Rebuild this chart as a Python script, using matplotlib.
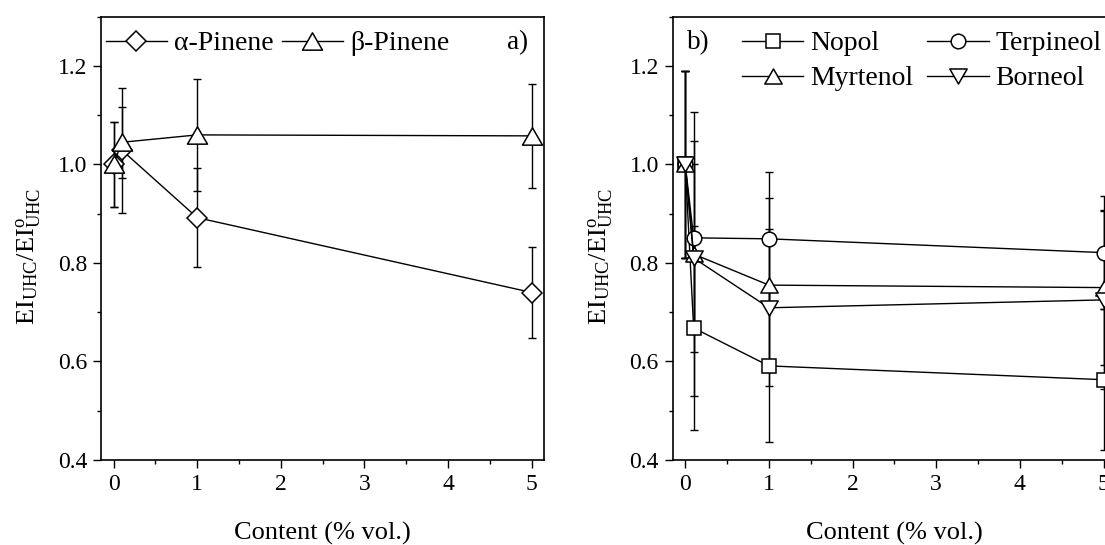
import matplotlib
matplotlib.use("Agg")
import matplotlib.pyplot as plt
from matplotlib.path import Path
from matplotlib.ticker import MultipleLocator

plt.rcParams["font.family"] = ["Liberation Serif", "DejaVu Serif"]
plt.rcParams["mathtext.fontset"] = "custom"
plt.rcParams["mathtext.rm"] = "Liberation Serif"
plt.rcParams["mathtext.it"] = "Liberation Serif:italic"

# Additive content (% vol.)
content = [0, 0.1, 1, 5]

# Panel a) pinenes: normalised EI_UHC and error
alpha_pinene = [1.000, 1.029, 0.892, 0.740]
alpha_pinene_err = [0.087, 0.127, 0.100, 0.092]
beta_pinene = [1.000, 1.045, 1.060, 1.058]
beta_pinene_err = [0.087, 0.072, 0.113, 0.105]

# Panel b) terpene alcohols
nopol = [1.000, 0.668, 0.591, 0.563]
nopol_err = [0.190, 0.207, 0.155, 0.143]
terpineol = [1.000, 0.851, 0.849, 0.821]
terpineol_err = [0.190, 0.196, 0.135, 0.114]
myrtenol = [1.000, 0.818, 0.755, 0.750]
myrtenol_err = [0.190, 0.288, 0.177, 0.157]
borneol = [1.000, 0.810, 0.709, 0.725]
borneol_err = [0.190, 0.190, 0.159, 0.180]

x_ticks = [0, 1, 2, 3, 4, 5]
y_ticks = [0.4, 0.6, 0.8, 1.0, 1.2]
ylabel = r"$\mathrm{EI_{UHC}/EI^{o}_{UHC}}$"
xlabel = "Content (% vol.)"

# Equilateral triangles (Origin style)
tri_up = Path([(-0.5774, -0.5), (0.5774, -0.5), (0.0, 0.5), (-0.5774, -0.5)],
              [Path.MOVETO, Path.LINETO, Path.LINETO, Path.CLOSEPOLY])
tri_down = Path([(-0.5774, 0.5), (0.5774, 0.5), (0.0, -0.5), (-0.5774, 0.5)],
                [Path.MOVETO, Path.LINETO, Path.LINETO, Path.CLOSEPOLY])

TICK_FS = 17
LABEL_FS = 19
LEGEND_FS = 20

fig = plt.figure(figsize=(11.05, 5.45), dpi=100)
ax_a = fig.add_axes([0.0914, 0.156, 0.4012, 0.8134])
ax_b = fig.add_axes([0.6088, 0.156, 0.4012, 0.8134])


def style_axes(ax):
    ax.set_xlim(-0.15, 5.15)
    ax.set_ylim(0.4, 1.3)
    ax.set_xticks(x_ticks)
    ax.set_yticks(y_ticks)
    ax.xaxis.set_minor_locator(MultipleLocator(0.5))
    ax.yaxis.set_minor_locator(MultipleLocator(0.1))
    ax.tick_params(which="both", direction="out", top=False, right=False,
                   width=1.0, labelsize=TICK_FS)
    ax.tick_params(which="major", length=6, pad=4)
    ax.tick_params(which="minor", length=3)
    for sp in ax.spines.values():
        sp.set_linewidth(1.2)
    ax.set_xlabel(xlabel, fontsize=LABEL_FS)
    ax.set_ylabel(ylabel, fontsize=LABEL_FS)
    ax.xaxis.set_label_coords(0.5, -0.14)
    ax.yaxis.set_label_coords(-0.13, 0.46)


def series(ax, y, err, marker, ms, label):
    ax.errorbar(content, y, yerr=err, fmt="none", ecolor="black",
                elinewidth=1.0, capsize=3, capthick=1.0, zorder=2)
    line, = ax.plot(content, y, color="black", lw=1.0, marker=marker, ms=ms,
                    mfc="white", mec="black", mew=1.1, label=label, zorder=3)
    return line


legend_kw = dict(loc="upper left", ncol=2, frameon=False, fontsize=LEGEND_FS,
                 handlelength=2.2, handletextpad=0.25,
                 borderpad=0, borderaxespad=0, numpoints=1)

style_axes(ax_a)
h_alpha = series(ax_a, alpha_pinene, alpha_pinene_err, "D", 10.2, "\u03b1-Pinene")
h_beta = series(ax_a, beta_pinene, beta_pinene_err, tri_up, 14.4, "\u03b2-Pinene")
ax_a.legend(handles=[h_alpha, h_beta], bbox_to_anchor=(0.011, 0.968),
            columnspacing=0.3, **legend_kw)
ax_a.text(0.963, 0.941, "a)", transform=ax_a.transAxes, ha="right",
          va="center", fontsize=19.5)

style_axes(ax_b)
h_nopol = series(ax_b, nopol, nopol_err, "s", 10, "Nopol")
h_terp = series(ax_b, terpineol, terpineol_err, "o", 10.5, "Terpineol")
h_myrt = series(ax_b, myrtenol, myrtenol_err, tri_up, 12.5, "Myrtenol")
h_born = series(ax_b, borneol, borneol_err, tri_down, 12.5, "Borneol")
# rows: Nopol / Terpineol, Myrtenol / Borneol
ax_b.legend(handles=[h_nopol, h_myrt, h_terp, h_born],
            bbox_to_anchor=(0.157, 0.968), labelspacing=0.35,
            columnspacing=0.5, **legend_kw)
ax_b.text(0.033, 0.941, "b)", transform=ax_b.transAxes, ha="left",
          va="center", fontsize=19.5)

fig.savefig("out.png", dpi=100)
